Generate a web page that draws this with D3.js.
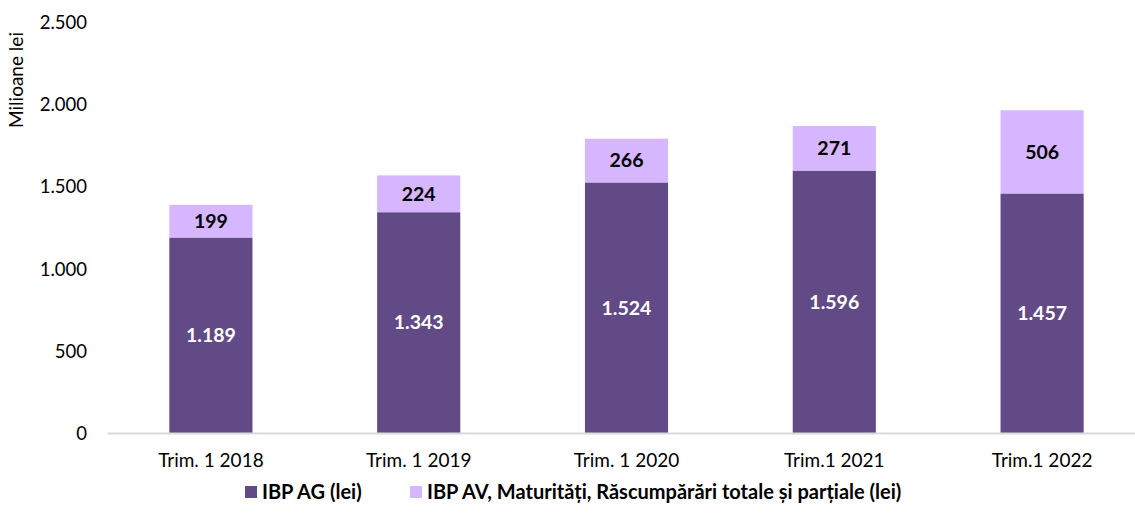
<!DOCTYPE html>
<html>
<head>
<meta charset="utf-8">
<script src="https://cdn.jsdelivr.net/npm/d3@7"></script>
<style>
  body { margin: 0; background: #fff; }
  svg text { font-family: Lato, "Open Sans", sans-serif; }
</style>
</head>
<body>
<svg id="chart" width="1135" height="520"></svg>
<script>
// data
var categories = ["Trim. 1 2018", "Trim. 1 2019", "Trim. 1 2020", "Trim.1 2021", "Trim.1 2022"];
var ibpAG = [1189, 1343, 1524, 1596, 1457];
var ibpAV = [199, 224, 266, 271, 506];
var seriesNames = ["IBP AG (lei)", "IBP AV, Maturități, Răscumpărări totale și parțiale (lei)"];
var yTicks = [0, 500, 1000, 1500, 2000, 2500];

var colors = ["#624a86", "#d5b6ff"];

var svg = d3.select("#chart");
var margin = {left: 107, top: 22, bottom: 87};
var width = 1146 - margin.left,
    height = 520 - margin.top - margin.bottom;

var g = svg.append("g").attr("transform", "translate(" + margin.left + "," + margin.top + ")");

var x = d3.scaleBand().domain(categories).range([0, width]).paddingInner(0.6).paddingOuter(0.3);
var y = d3.scaleLinear().domain([0, 2500]).range([height, 0]);

var fmt = function(v) { return d3.format(",")(v).replace(/,/g, "."); };

// stack
var rows = categories.map(function(c, i) { return {cat: c, ag: ibpAG[i], av: ibpAV[i]}; });
var stack = d3.stack().keys(["ag", "av"])(rows);

// y axis (no line, no ticks)
var yAxis = g.append("g").call(d3.axisLeft(y).tickValues(yTicks).tickFormat(fmt).tickSize(0).tickPadding(20));
yAxis.select(".domain").remove();
yAxis.selectAll("text").attr("font-size", 18.5).attr("fill", "#000").attr("dy", "0.35em")
  .style("font-family", "Lato, sans-serif");

// bars
stack.forEach(function(layer, li) {
  g.selectAll(".bar" + li).data(layer).enter().append("rect")
    .attr("class", "bar" + li)
    .attr("x", function(d) { return x(d.data.cat); })
    .attr("width", x.bandwidth())
    .attr("y", function(d) { return y(d[1]); })
    .attr("height", function(d) { return y(d[0]) - y(d[1]); })
    .attr("fill", colors[li]);

  g.selectAll(".lbl" + li).data(layer).enter().append("text")
    .attr("x", function(d) { return x(d.data.cat) + x.bandwidth() / 2; })
    .attr("y", function(d) { return (y(d[0]) + y(d[1])) / 2; })
    .attr("dy", "0.35em")
    .attr("text-anchor", "middle")
    .attr("font-size", 19.5)
    .attr("font-weight", "bold")
    .attr("fill", li == 0 ? "#fff" : "#000")
    .text(function(d) { return fmt(d[1] - d[0]); });
});

// x axis
var xAxis = g.append("g").attr("transform", "translate(0," + height + ")")
  .call(d3.axisBottom(x).tickSize(0).tickPadding(21));
xAxis.select(".domain").attr("stroke", "#d9d9d9").attr("stroke-width", 2);
xAxis.selectAll("text").attr("font-size", 19).attr("fill", "#000")
  .style("font-family", "Lato, sans-serif");

// y title
svg.append("text")
  .attr("transform", "translate(23,80) rotate(-90)")
  .attr("text-anchor", "middle")
  .attr("font-size", 19)
  .attr("fill", "#000")
  .text("Milioane lei");

// legend
var legendX = [245, 410];
seriesNames.forEach(function(name, i) {
  var lg = svg.append("g").attr("transform", "translate(" + legendX[i] + ",492)");
  lg.append("rect").attr("x", 0).attr("y", -6).attr("width", 12).attr("height", 12).attr("fill", colors[i]);
  lg.append("text").attr("x", 17).attr("y", 0).attr("dy", "0.35em")
    .attr("font-size", 20).attr("font-weight", "bold").attr("fill", "#000")
    .text(name);
});
</script>
</body>
</html>
